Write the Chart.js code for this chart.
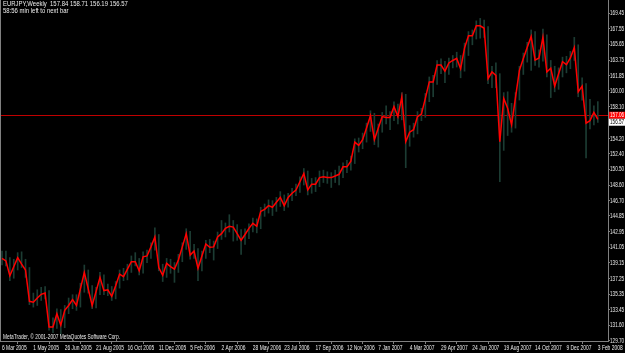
<!DOCTYPE html>
<html>
<head>
<meta charset="utf-8">
<script src="https://cdn.jsdelivr.net/npm/chart.js@4.4.1/dist/chart.umd.min.js"></script>
<style>
  html, body { margin: 0; padding: 0; background: #000; }
  canvas { display: block; }
</style>
</head>
<body>
<canvas id="chart" width="625" height="353"></canvas>
<script>
// weekly closes, EURJPY, from 6 Mar 2005 to 3 Feb 2008
const closes = [
  139.7, 139.4, 137.6, 138.7, 139.8, 139.0, 138.3, 134.5, 134.4, 134.9,
  135.35, 135.5, 131.4, 131.4, 133.0, 131.6, 133.4, 134.0, 134.7, 134.0,
  136.0, 138.0, 136.0, 134.0, 135.7, 137.4, 135.8, 135.9, 135.1, 136.4,
  137.8, 137.5, 138.4, 139.3, 139.3, 138.2, 139.9, 140.0, 141.1, 142.3,
  138.6, 137.65, 139.1, 138.7, 138.4, 139.5, 141.1, 142.7, 140.1, 140.6,
  138.5, 140.0, 141.45, 141.05, 141.1, 142.3, 142.7, 143.35, 143.6, 143.5,
  142.7, 141.9, 142.6, 143.35, 143.95, 143.6, 145.4, 145.65, 146.1, 145.9,
  146.5, 147.1, 146.1, 147.1, 147.6, 148.0, 149.0, 150.0, 148.0, 148.7,
  148.7, 149.5, 149.6, 149.5, 149.5, 149.7, 149.9, 150.8, 150.8, 151.5,
  153.8, 153.4, 154.1, 155.5, 157.0, 154.1, 155.5, 156.9, 156.8, 156.8,
  158.1, 156.9, 159.3, 153.85, 155.0, 155.3, 156.9, 157.2, 159.1, 161.1,
  161.1, 163.15, 163.15, 162.4, 163.4, 163.7, 163.95, 162.7, 165.2, 166.7,
  166.7, 167.9, 167.9, 167.6, 161.5, 162.3, 161.9, 153.85, 159.1, 157.9,
  155.9, 159.2, 162.5, 163.95, 165.3, 166.6, 163.75, 164.0, 166.5, 162.3,
  162.75, 160.6, 162.1, 163.55, 163.2, 164.0, 165.25, 159.9, 160.6, 156.1,
  156.4, 157.4, 156.57
];
const highs = [
  140.6, 140.6, 139.8, 139.6, 140.4, 140.5, 139.6, 138.6, 135.5, 135.9,
  136.2, 136.3, 135.8, 132.5, 133.6, 133.5, 134.0, 134.9, 135.3, 135.3,
  136.7, 138.9, 138.3, 136.4, 136.2, 138.0, 137.7, 136.6, 136.3, 136.9,
  138.3, 138.5, 139.0, 140.0, 140.4, 139.7, 140.5, 140.7, 141.6, 143.4,
  142.6, 139.0, 139.7, 139.6, 139.2, 140.2, 141.6, 143.3, 143.0, 141.4,
  140.9, 140.6, 141.9, 142.0, 141.8, 142.9, 144.3, 144.0, 145.0, 144.3,
  143.8, 143.2, 143.3, 143.9, 144.6, 144.5, 145.9, 146.3, 146.8, 146.7,
  147.1, 147.8, 147.4, 147.6, 148.2, 148.7, 149.6, 150.6, 150.3, 149.4,
  149.5, 150.3, 150.4, 150.2, 150.1, 150.4, 150.9, 151.3, 151.6, 152.1,
  154.2, 154.3, 154.9, 156.1, 157.6, 157.3, 156.0, 157.4, 158.2, 157.5,
  158.7, 158.4, 159.8, 159.6, 155.8, 156.1, 157.5, 157.9, 159.7, 161.7,
  161.9, 163.7, 163.9, 163.6, 164.0, 164.3, 164.7, 164.3, 165.8, 167.2,
  167.4, 168.5, 168.8, 168.6, 167.8, 163.0, 163.4, 162.1, 159.8, 159.9,
  158.5, 159.8, 163.0, 164.6, 165.9, 167.4, 167.2, 165.0, 167.5, 166.8,
  163.7, 163.0, 162.8, 164.1, 164.2, 164.8, 166.5, 165.6, 161.6, 160.9,
  159.0, 158.2, 158.71
];
const lows = [
  138.9, 138.8, 137.0, 137.3, 138.3, 138.6, 137.4, 134.1, 133.8, 134.0,
  134.6, 134.8, 131.0, 130.7, 131.2, 130.5, 131.3, 133.0, 133.6, 133.4,
  133.8, 135.6, 135.5, 133.6, 133.7, 135.3, 135.3, 135.2, 134.6, 134.8,
  136.1, 137.0, 137.1, 138.0, 138.8, 137.7, 137.9, 139.2, 139.7, 140.7,
  138.2, 136.9, 137.4, 137.9, 136.8, 138.0, 139.3, 140.8, 139.6, 139.7,
  137.0, 138.2, 139.7, 140.4, 139.5, 140.9, 142.0, 142.3, 142.9, 141.8,
  141.9, 140.2, 141.4, 142.1, 142.9, 142.8, 143.3, 144.8, 145.2, 144.9,
  145.4, 146.0, 145.5, 145.9, 146.7, 147.3, 147.7, 148.6, 147.4, 147.6,
  147.8, 148.4, 148.9, 148.8, 148.3, 148.9, 148.6, 149.5, 150.1, 150.4,
  151.2, 152.6, 153.0, 153.8, 155.1, 153.5, 153.2, 155.0, 156.0, 155.3,
  156.4, 156.0, 156.5, 150.7, 153.3, 154.4, 154.8, 156.4, 156.8, 158.7,
  159.3, 160.8, 162.1, 161.0, 162.0, 162.8, 162.9, 161.6, 162.4, 164.3,
  165.6, 166.3, 166.4, 166.5, 160.9, 160.4, 160.4, 149.0, 152.8, 154.6,
  155.0, 155.5, 158.9, 162.0, 163.5, 162.5, 163.1, 162.9, 163.6, 161.7,
  159.2, 159.9, 160.2, 161.7, 162.2, 162.7, 163.7, 159.3, 158.9, 151.9,
  155.4, 155.9, 156.19
];
// one label every 8 weeks
const dateTicks = [
  "6 Mar 2005", "1 May 2005", "26 Jun 2005", "21 Aug 2005", "16 Oct 2005",
  "11 Dec 2005", "5 Feb 2006", "2 Apr 2006", "28 May 2006", "23 Jul 2006",
  "17 Sep 2006", "12 Nov 2006", "7 Jan 2007", "4 Mar 2007", "29 Apr 2007",
  "24 Jun 2007", "19 Aug 2007", "14 Oct 2007", "9 Dec 2007", "3 Feb 2008"
];
const priceTicks = [
  169.45, 167.55, 165.65, 163.75, 161.85, 160.00, 158.10, 154.20, 152.40,
  150.50, 148.60, 146.70, 144.85, 142.95, 141.05, 139.15, 137.25, 135.35,
  133.45, 131.60, 129.70
];
const hLine = 157.06;
const header = ["EURJPY,Weekly  157.84 158.71 156.19 156.57", "58:56 min left to next bar"];
const copyright = "MetaTrader, \u00a9 2001-2007 MetaQuotes Software Corp.";

const FONT = '"Liberation Sans", Arial, sans-serif';
const AXIS = "#808080";
const TEXT = "#ececec";
const SQUEEZE = 0.7; // MT4 labels are very narrow

// draw text squeezed horizontally, anchored at its left edge
function narrowText(ctx, s, x, y, k) {
  ctx.save();
  ctx.translate(x, y);
  ctx.scale(k, 1);
  ctx.fillText(s, 0, 0);
  ctx.restore();
}

const overlay = {
  id: "overlay",
  beforeDraw(chart) {
    const ctx = chart.ctx;
    ctx.save();
    ctx.fillStyle = "#000";
    ctx.fillRect(0, 0, chart.width, chart.height);
    ctx.restore();
  },
  beforeDatasetsDraw(chart) {
    const { ctx, chartArea: a, scales: { y } } = chart;
    const py = Math.round(y.getPixelForValue(hLine)) + 0.5;
    ctx.save();
    ctx.strokeStyle = "#c00000";
    ctx.lineWidth = 1;
    ctx.beginPath();
    ctx.moveTo(a.left, py);
    ctx.lineTo(a.right, py);
    ctx.stroke();
    ctx.restore();
  },
  afterDraw(chart) {
    const { ctx, chartArea: a, scales: { x, y } } = chart;
    ctx.save();
    // left border
    ctx.strokeStyle = AXIS;
    ctx.beginPath();
    ctx.moveTo(0.5, 0);
    ctx.lineTo(0.5, a.bottom);
    ctx.stroke();

    ctx.font = "7px " + FONT;
    ctx.fillStyle = TEXT;
    ctx.textAlign = "left";

    // date labels under the axis, starting at their tick
    ctx.textBaseline = "top";
    x.ticks.forEach((t, i) => {
      narrowText(ctx, dateTicks[i], x.getPixelForValue(t.value), a.bottom + 4, SQUEEZE);
    });
    // price labels right of the axis
    ctx.textBaseline = "middle";
    y.ticks.forEach((t) => {
      narrowText(ctx, t.value.toFixed(2), a.right + 2, y.getPixelForValue(t.value), 0.66);
    });

    // price boxes
    const hy = y.getPixelForValue(hLine);
    ctx.fillStyle = "#ff0000";
    ctx.fillRect(a.right + 1, hy - 3.5, 17, 7);
    ctx.fillStyle = "#fff";
    narrowText(ctx, hLine.toFixed(2), a.right + 2, hy, 0.66);
    const last = closes[closes.length - 1];
    const cy = Math.max(y.getPixelForValue(last), hy + 7);
    ctx.fillStyle = "#fff";
    ctx.fillRect(a.right + 1, cy - 3.5, 17, 7);
    ctx.fillStyle = "#000";
    narrowText(ctx, last.toFixed(2), a.right + 2, cy, 0.66);

    // header and footer text
    ctx.fillStyle = TEXT;
    ctx.textBaseline = "top";
    ctx.font = "7px " + FONT;
    narrowText(ctx, header[0], 3, 1, 0.85);
    narrowText(ctx, header[1], 3, 8, 0.85);
    ctx.textBaseline = "alphabetic";
    ctx.font = "6.5px " + FONT;
    narrowText(ctx, copyright, 3, a.bottom - 2, 117 / ctx.measureText(copyright).width);
    ctx.restore();
  }
};

new Chart(document.getElementById("chart"), {
  type: "bar",
  data: {
    datasets: [
      {
        type: "line",
        data: closes.map((c, i) => ({ x: i, y: c })),
        borderColor: "#ff0000",
        borderWidth: 1.5,
        pointRadius: 0,
        tension: 0,
        order: 1
      },
      {
        type: "bar",
        data: lows.map((l, i) => ({ x: i, y: [l, highs[i]] })),
        backgroundColor: "#1c3c33",
        barThickness: 1,
        order: 2
      }
    ]
  },
  options: {
    responsive: false,
    animation: false,
    devicePixelRatio: 1,
    layout: { padding: 0 },
    plugins: { legend: { display: false }, tooltip: { enabled: false } },
    scales: {
      x: {
        type: "linear",
        min: -0.51,
        max: 154.6,
        offset: false,
        afterBuildTicks: (s) => { s.ticks = dateTicks.map((_, i) => ({ value: i * 8 })); },
        afterFit: (s) => { s.height = 12; s.paddingLeft = 0; s.paddingRight = 0; },
        border: { color: AXIS },
        grid: { drawOnChartArea: false, drawTicks: true, tickLength: 3, color: AXIS },
        ticks: { display: false }
      },
      y: {
        type: "linear",
        position: "right",
        min: 129.69,
        max: 171.03,
        afterBuildTicks: (s) => { s.ticks = priceTicks.map((v) => ({ value: v })); },
        afterFit: (s) => { s.width = 17; s.paddingTop = 0; s.paddingBottom = 0; },
        border: { color: AXIS },
        grid: { drawOnChartArea: false, drawTicks: true, tickLength: 2, color: AXIS },
        ticks: { display: false }
      }
    }
  },
  plugins: [overlay]
});
</script>
</body>
</html>
